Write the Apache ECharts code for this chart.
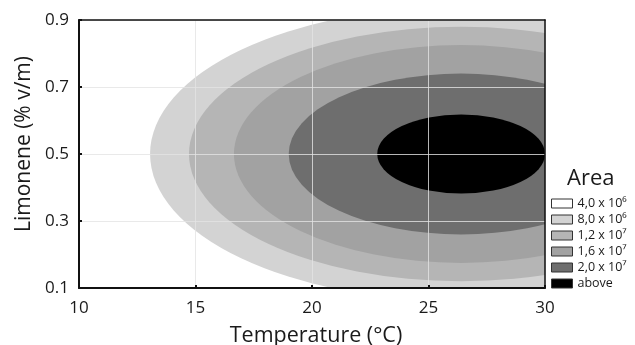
<!DOCTYPE html>
<html>
<head>
<meta charset="utf-8">
<script src="https://cdn.jsdelivr.net/npm/echarts@6/dist/echarts.min.js"></script>
<style>
  html, body {margin: 0; background: #fff;}
  #chart {width: 635px; height: 345px;}
</style>
</head>
<body>
<div id="chart"></div>
<script>
// contour levels (legend order) and the elliptical region each one fills
const levelNames = ['4,0 x 10⁶', '8,0 x 10⁶', '1,2 x 10⁷', '1,6 x 10⁷', '2,0 x 10⁷', 'above'];
const levelColors = ['#ffffff', '#d3d3d3', '#b5b5b5', '#a2a2a2', '#6e6e6e', '#000000'];
const centerTemp = 26.4;
const centerLim = 0.5;
const halfTemp = [null, 13.35, 11.68, 9.75, 7.4, 3.6]; // half-width in °C
const halfLim = [null, 0.44, 0.38, 0.325, 0.24, 0.118]; // half-height in % v/m

const tempTicks = [10, 15, 20, 25, 30];
const limTicks = [0.1, 0.3, 0.5, 0.7, 0.9];

const font = 'Open Sans';
const chart = echarts.init(document.getElementById('chart'));

const axisBox = {
  show: true, z: 5,
  axisLine: {show: true, onZero: false, lineStyle: {color: '#111', width: 1.5}},
  axisTick: {show: false}, axisLabel: {show: false}, splitLine: {show: false}
};

chart.setOption({
  animation: false,
  textStyle: {fontFamily: font},
  grid: {left: 79, top: 20, width: 466, height: 268, containLabel: false, outerBoundsMode: 'none'},
  title: {
    text: 'Area', left: 562, top: 163,
    textStyle: {fontSize: 22, fontWeight: 'normal', color: '#1a1a1a', fontFamily: font}
  },
  legend: {
    orient: 'vertical', left: 546, top: 192,
    itemWidth: 21, itemHeight: 9, itemGap: 3, icon: 'rect',
    itemStyle: {borderColor: '#333', borderWidth: 1},
    textStyle: {fontSize: 12.5, color: '#1a1a1a', lineHeight: 13, fontFamily: font},
    data: levelNames
  },
  xAxis: [{
    type: 'value', position: 'bottom', z: 5,
    min: tempTicks[0], max: tempTicks[tempTicks.length - 1], interval: 5,
    name: 'Temperature (°C)', nameLocation: 'middle', nameGap: 37,
    nameTextStyle: {fontSize: 21.5, color: '#1a1a1a', fontFamily: font, padding: [0, 0, 0, 8]},
    axisLine: {onZero: false, lineStyle: {color: '#111', width: 2}},
    axisTick: {inside: true, length: 3, lineStyle: {color: '#111', width: 2}},
    axisLabel: {color: '#1a1a1a', fontSize: 17, margin: 12, fontFamily: font},
    splitLine: {show: true, lineStyle: {color: 'rgba(228,228,228,0.8)', width: 1}}
  }, Object.assign({type: 'value', position: 'top', min: 10, max: 30}, axisBox)],
  yAxis: [{
    type: 'value', position: 'left', z: 5,
    min: limTicks[0], max: limTicks[limTicks.length - 1], interval: 0.2,
    name: 'Limonene (% v/m)', nameLocation: 'middle', nameGap: 43,
    nameTextStyle: {fontSize: 21, color: '#1a1a1a', fontFamily: font, padding: [0, 0, 0, 20]},
    axisLine: {onZero: false, lineStyle: {color: '#111', width: 2}},
    axisTick: {inside: true, length: 3, lineStyle: {color: '#111', width: 2}},
    axisLabel: {color: '#1a1a1a', fontSize: 17, margin: 10, fontFamily: font, formatter: v => v.toFixed(1)},
    splitLine: {show: true, lineStyle: {color: 'rgba(228,228,228,0.8)', width: 1}}
  }, Object.assign({type: 'value', position: 'right', min: 0.1, max: 0.9}, axisBox)],
  series: levelNames.map((name, i) => ({
    type: 'custom',
    name: name,
    clip: true,
    z: 2,
    itemStyle: {color: levelColors[i]},
    encode: {x: 0, y: 1},
    data: [[centerTemp, centerLim, halfTemp[i], halfLim[i]]],
    renderItem: (params, api) => {
      const color = api.visual('color');
      if (halfTemp[i] == null) {
        const cs = params.coordSys;
        return {type: 'rect', shape: {x: cs.x, y: cs.y, width: cs.width, height: cs.height}, style: {fill: color}};
      }
      const c = api.coord([api.value(0), api.value(1)]);
      const rx = api.size([api.value(2), 0])[0];
      const ry = api.size([0, api.value(3)])[1];
      return {
        type: 'circle', x: c[0], y: c[1], scaleY: ry / rx,
        shape: {cx: 0, cy: 0, r: rx},
        style: {fill: color}
      };
    }
  }))
});
</script>
</body>
</html>
